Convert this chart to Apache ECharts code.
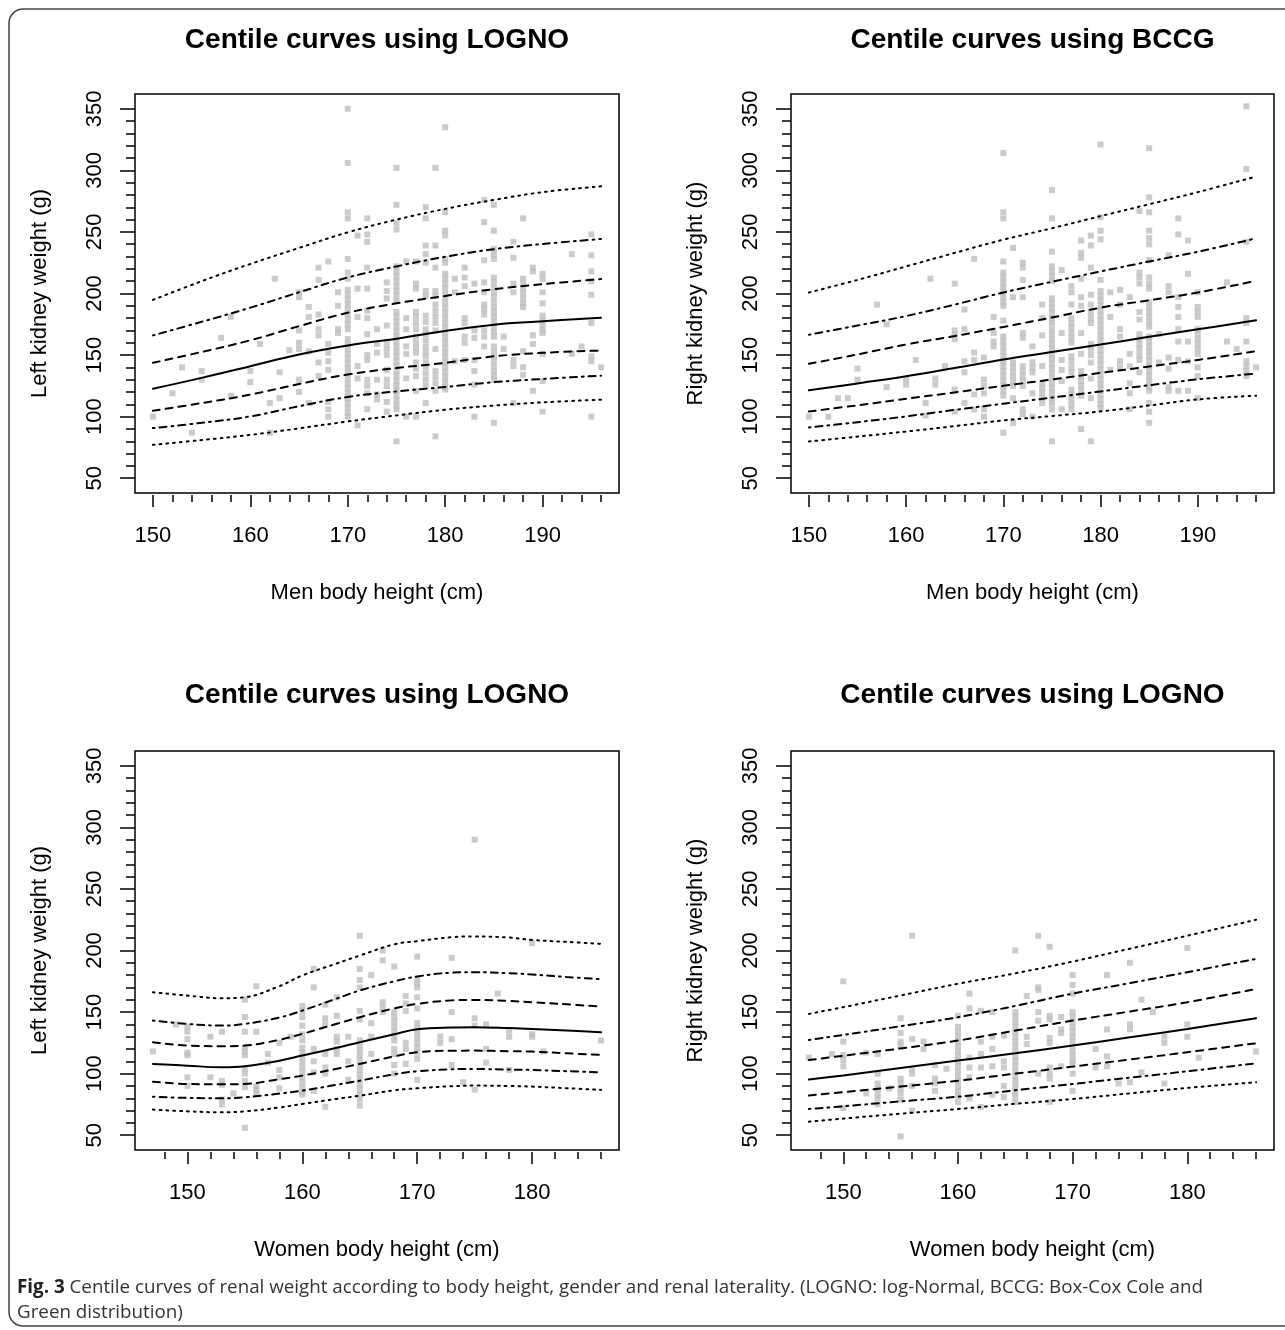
<!DOCTYPE html>
<html>
<head>
<meta charset="utf-8">
<script src="https://cdn.jsdelivr.net/npm/echarts@6/dist/echarts.min.js"></script>
<style>
  html, body { margin: 0; padding: 0; background: #fff; }
  #chart { width: 1285px; height: 1330px; }
</style>
</head>
<body>
<div id="chart"></div>
<script>
// centile curves, men (x = body height)
const menX = [150, 155, 160, 165, 170, 175, 180, 185, 190, 196];
const menLeftC3  = [77.1, 81, 85.2, 90.5, 96.1, 101, 105.6, 109, 111.6, 113.8];
const menLeftC10 = [90.7, 95, 100.2, 108.5, 116, 120.5, 124.1, 128, 130.6, 133.3];
const menLeftC25 = [104.8, 111, 117.9, 126.5, 134.2, 139.5, 143.7, 149, 151.8, 153.7];
const menLeftC50 = [122.7, 131.5, 141, 150.5, 157.8, 163.3, 169.5, 174.7, 177.4, 180.4];
const menLeftC75 = [143.7, 152.5, 162, 173.5, 184.4, 192, 198, 203.5, 207.6, 211.7];
const menLeftC90 = [166, 177, 188.5, 201, 213, 222, 229.8, 236, 240.2, 244.3];
const menLeftC97 = [194.8, 210, 224, 237, 249.7, 260, 268.7, 276, 282.3, 287];

const menRightC3  = [79.8, 83.8, 87.9, 92.3, 96.9, 100.5, 104.2, 109, 114, 117];
const menRightC10 = [91.2, 95.5, 100.2, 105.5, 110.5, 115.5, 120.5, 125.5, 130.3, 135];
const menRightC25 = [104.2, 109.2, 114.5, 119.7, 125, 130.2, 135.5, 140.7, 146, 153.2];
const menRightC50 = [121.4, 127, 132.8, 139.5, 146.4, 152.5, 158.6, 164.8, 170.9, 178.2];
const menRightC75 = [142.9, 150.5, 158.6, 165.5, 172.8, 180.5, 188.5, 194.5, 200.8, 210.3];
const menRightC90 = [166.5, 174, 181.7, 191, 200.8, 209.5, 217.9, 226, 233.9, 244.8];
const menRightC97 = [200.8, 211, 222, 233, 243.7, 253, 262.8, 272.5, 282.3, 295];

// centile curves, women
const womenLeftX = [147, 150, 153, 155, 158, 160, 163, 165, 168, 170, 173, 175, 178, 180, 183, 186];
const womenLeftC3  = [70.8, 69.4, 68.6, 69.4, 72.5, 75.4, 79.5, 82.1, 86.5, 88.1, 89.8, 90.3, 90, 89.5, 88.2, 86.8];
const womenLeftC10 = [81.3, 80.3, 80, 80.8, 83.8, 86.2, 91, 94.3, 99.5, 101.9, 103.5, 103.8, 103.3, 103, 102, 101.1];
const womenLeftC25 = [93.5, 91.6, 91.3, 91.6, 95.5, 98.4, 104, 107.9, 114, 117.4, 118.6, 118.7, 118.2, 117.9, 116.5, 115.2];
const womenLeftC50 = [107.9, 106.5, 105.2, 106, 110.5, 114.7, 121, 125.5, 132, 136.1, 137.5, 137.7, 137, 136.3, 135, 133.6];
const womenLeftC75 = [125.5, 122.8, 122.3, 122.8, 127.5, 132.3, 140.5, 145.8, 153, 156.6, 159.5, 159.9, 159, 158, 156.3, 154.5];
const womenLeftC90 = [143.1, 140.4, 139, 140.4, 145.5, 151.2, 161, 167.5, 175, 178.9, 182, 182.4, 181.5, 180.5, 178.5, 176.7];
const womenLeftC97 = [166.1, 163.4, 161.2, 162.1, 171, 179.7, 189.5, 195.9, 205, 207.6, 210.8, 211.4, 210.5, 208.6, 207, 205.4];

const womenRightX = [147, 150, 155, 160, 165, 170, 175, 180, 186];
const womenRightC3  = [61, 63.5, 67.5, 71.3, 75.5, 79.4, 84, 88.4, 93];
const womenRightC10 = [71.3, 73.5, 77.5, 81.3, 86.5, 91.6, 96.8, 101.9, 108.4];
const womenRightC25 = [82.2, 85, 89.5, 94.3, 100, 105.7, 111.5, 117.4, 124.7];
const womenRightC50 = [95.2, 98.5, 104.5, 110.6, 116.5, 122.8, 129.5, 136.3, 145];
const womenRightC75 = [111.1, 114.5, 120.5, 126.9, 135, 143.1, 150.5, 158, 168.8];
const womenRightC90 = [127.4, 131.5, 138.5, 145.8, 155, 165, 173.5, 182.4, 193.2];
const womenRightC97 = [148.5, 154, 163.5, 173, 181.5, 191, 201.5, 212, 225];

// observed kidney weights: [height, [weights...]]
const menLeftPts = [
  [150, [100]], [152, [119]], [153, [140]], [154, [87]], [155, [137, 130]], [157, [164]],
  [158, [181, 117]], [160, [137, 128]], [161, [159]], [162, [111, 87]], [162.5, [212]],
  [163, [136, 115]], [164, [154]], [165, [201, 197, 170, 160, 155, 130, 120]],
  [166, [189, 181, 153, 111]], [167, [221, 211, 183, 171, 166, 144, 133]],
  [168, [226, 159, 152, 145, 138, 112, 106, 100]], [169, [201, 190, 171, 168]],
  [170, [350, 306, 266, 261, 228, 217, 212, 203, 199, 195, 191, 187, 183, 179, 175, 171, 163, 159, 155, 151, 147, 143, 139, 135, 131, 127, 123, 119, 115, 111, 107, 103, 100]],
  [171, [247, 204, 181, 141, 131, 93]],
  [172, [261, 248, 242, 221, 204, 186, 180, 167, 150, 146, 130, 125, 119, 106]],
  [173, [171, 159, 152, 130, 118, 114]],
  [174, [209, 202, 196, 174, 160, 155, 150, 138, 130, 125, 112, 104]],
  [175, [302, 272, 257, 252, 222, 218, 214, 210, 206, 202, 198, 194, 185, 181, 177, 173, 169, 165, 161, 157, 153, 149, 145, 141, 137, 133, 129, 125, 121, 117, 113, 109, 106, 80]],
  [176, [226, 180, 171, 157, 151, 131, 100]],
  [177, [226, 208, 204, 185, 181, 176, 171, 165, 160, 156, 152, 144, 139, 133, 121, 100]],
  [178, [270, 261, 239, 232, 225, 202, 198, 182, 177, 171, 167, 162, 157, 153, 149, 144, 140, 135, 130, 125, 111]],
  [179, [302, 239, 221, 202, 198, 191, 186, 181, 176, 170, 155, 137, 132, 127, 121, 84]],
  [180, [335, 266, 251, 247, 228, 225, 216, 212, 208, 204, 200, 196, 192, 188, 184, 180, 176, 172, 168, 164, 160, 156, 152, 148, 144, 140, 136, 132, 128, 124, 122]],
  [181, [212, 201, 145]], [182, [221, 213, 206, 180, 176, 165, 160, 146]],
  [183, [208, 170, 164, 146, 137, 126, 100]],
  [184, [276, 258, 227, 209, 201, 191, 187, 183, 170, 165, 157]],
  [185, [272, 251, 236, 232, 228, 213, 209, 205, 201, 197, 193, 189, 185, 181, 177, 173, 169, 165, 157, 153, 149, 145, 141, 137, 133, 130, 95]],
  [186, [165, 155]], [187, [242, 229, 208, 201, 146, 141, 111]],
  [188, [261, 212, 208, 204, 200, 196, 192, 189, 153, 140, 134]],
  [189, [221, 218, 166, 159, 121]],
  [190, [216, 212, 201, 192, 182, 178, 174, 170, 168, 151, 129, 104]],
  [193, [232, 151]], [194, [157]], [195, [248, 231, 218, 210, 199, 176, 149, 145, 100]], [196, [140]]
];

const menRightPts = [
  [150, [100]], [152, [100]], [153, [115]], [154, [115]], [155, [139, 130]], [157, [191]],
  [158, [175, 124]], [160, [130, 126]], [161, [146]], [162, [111, 101]], [162.5, [212]],
  [163, [131, 126]], [164, [141]], [165, [208, 170, 166, 163, 122, 104]],
  [166, [187, 171, 145, 136, 111]], [167, [228, 152, 146, 118, 106]],
  [168, [148, 130, 125, 119, 106, 100]], [169, [181, 168, 161, 157]],
  [170, [314, 266, 261, 226, 217, 213, 209, 205, 201, 197, 193, 190, 178, 165, 161, 157, 153, 149, 145, 141, 137, 133, 129, 125, 121, 117, 87]],
  [171, [237, 197, 144, 140, 136, 132, 128, 125, 115, 95]],
  [172, [225, 221, 211, 197, 168, 164, 141, 137, 133, 129, 125, 106, 102]],
  [173, [157, 144, 140, 136, 119, 100]],
  [174, [191, 180, 166, 141, 127, 123, 119, 115, 111]],
  [175, [284, 261, 234, 222, 218, 214, 210, 196, 192, 188, 184, 180, 176, 171, 167, 163, 159, 155, 151, 147, 143, 139, 135, 131, 127, 123, 119, 115, 111, 106, 80]],
  [176, [219, 168, 146, 138, 129, 106]],
  [177, [206, 201, 191, 180, 176, 172, 168, 164, 160, 149, 145, 140, 136, 122, 118, 114, 110, 106]],
  [178, [243, 233, 229, 212, 197, 190, 168, 151, 137, 133, 129, 125, 121, 117, 90]],
  [179, [247, 239, 221, 199, 191, 185, 180, 176, 159, 155, 150, 144, 131, 115, 80]],
  [180, [321, 262, 251, 244, 211, 202, 198, 194, 190, 186, 182, 178, 174, 170, 166, 162, 158, 154, 150, 146, 142, 138, 134, 130, 126, 122, 118, 114, 110, 107]],
  [181, [201, 181, 138]], [182, [203, 191, 171, 165, 145, 140]],
  [183, [197, 151, 141, 127, 119, 106]],
  [184, [267, 217, 213, 208, 185, 179, 167, 163, 159, 155, 150, 146, 136]],
  [185, [318, 278, 266, 251, 245, 240, 227, 213, 208, 204, 193, 189, 185, 181, 177, 173, 165, 161, 157, 153, 149, 145, 141, 137, 133, 129, 125, 121, 111, 104, 95]],
  [186, [167, 144]], [187, [231, 206, 201, 148, 139, 124, 121]],
  [188, [261, 248, 197, 189, 181, 171, 161, 146, 121]],
  [189, [243, 216, 161, 145, 121]],
  [190, [201, 189, 185, 181, 171, 167, 163, 159, 155, 151, 140, 133, 115]],
  [193, [209, 161]], [194, [155]], [195, [352, 301, 242, 180, 176, 161, 145, 141, 137, 133]], [196, [140]]
];

const womenLeftPts = [
  [147, [118]], [149, [140]], [150, [138, 134, 128, 117, 115, 97, 90]], [152, [130, 97]],
  [153, [134, 94, 91, 79, 75]], [154, [84]],
  [155, [160, 146, 134, 121, 118, 115, 104, 100, 94, 89, 56]],
  [156, [171, 134, 90, 87, 84]], [157, [116, 109]], [158, [125, 103, 97, 88]], [159, [130]],
  [160, [155, 151, 146, 139, 132, 127, 121, 117, 113, 109, 105, 101, 97, 93, 89, 85, 83]],
  [161, [185, 170, 120, 110, 101, 86]], [162, [156, 145, 140, 116, 105, 100, 73]],
  [163, [162, 147, 130, 126, 120, 116]], [164, [130, 110, 95]],
  [165, [212, 185, 176, 170, 151, 144, 127, 123, 119, 115, 111, 107, 103, 99, 95, 91, 87, 83, 79, 74]],
  [166, [180, 141, 130, 116]], [167, [200, 192, 158, 154, 150]],
  [168, [187, 150, 146, 142, 138, 134, 130, 127, 120, 116, 107, 100]],
  [169, [163, 157, 151, 125, 120, 108]],
  [170, [195, 176, 173, 170, 162, 153, 141, 137, 133, 129, 125, 121, 117, 112, 95]],
  [172, [130, 125]], [173, [194, 150, 128, 107]], [174, [93]], [175, [290, 145, 139, 87]],
  [176, [140, 120, 109]], [177, [165]], [178, [135, 130, 103]], [180, [206, 132, 130]],
  [181, [118]], [186, [127]]
];

const womenRightPts = [
  [147, [113]], [149, [116]], [150, [175, 126, 115, 111, 106, 72]], [152, [117, 84]],
  [153, [116, 100, 92, 88, 84, 80, 75]], [154, [88]],
  [155, [145, 133, 126, 123, 96, 92, 88, 84, 79, 49]],
  [156, [212, 128, 104, 100, 90, 70]], [157, [126, 120]], [158, [107, 96, 92, 86]], [159, [104]],
  [160, [147, 138, 134, 130, 126, 122, 118, 114, 110, 106, 102, 98, 94, 90, 86, 82, 77]],
  [161, [165, 153, 113, 105, 97, 80]], [162, [151, 126, 116, 105, 73]],
  [163, [150, 130, 120, 106, 83]], [164, [131, 110, 105, 90, 81]],
  [165, [200, 150, 146, 142, 138, 134, 130, 126, 122, 118, 114, 110, 106, 102, 98, 94, 90, 86, 82, 77]],
  [166, [163, 130, 124]], [167, [212, 170, 168, 150, 143, 100]],
  [168, [203, 147, 144, 129, 125, 105, 100, 96, 77]], [169, [146, 136, 133, 106]],
  [170, [180, 172, 165, 150, 146, 142, 138, 134, 130, 126, 122, 118, 114, 110, 108, 100, 86]],
  [172, [120, 105]], [173, [180, 136, 114, 106]], [174, [92]], [175, [190, 140, 136, 93]],
  [176, [160, 101]], [177, [150]], [178, [130, 125, 92]], [180, [202, 140, 130]],
  [181, [113]], [186, [118]]
];

// axis ticks
const menXLabels = [150, 160, 170, 180, 190];
const menXMinor = [150, 152, 154, 156, 158, 160, 162, 164, 166, 168, 170, 172, 174, 176, 178, 180, 182, 184, 186, 188, 190, 192, 194, 196];
const womenXLabels = [150, 160, 170, 180];
const womenXMinor = [148, 150, 152, 154, 156, 158, 160, 162, 164, 166, 168, 170, 172, 174, 176, 178, 180, 182, 184, 186];
const yLabels = [50, 100, 150, 200, 250, 300, 350];
const yMinor = [50, 60, 70, 80, 90, 100, 110, 120, 130, 140, 150, 160, 170, 180, 190, 200, 210, 220, 230, 240, 250, 260, 270, 280, 290, 300, 310, 320, 330, 340, 350];

const FONT = 'Liberation Sans';

const panels = [
  { title: 'Centile curves using LOGNO', xName: 'Men body height (cm)', yName: 'Left kidney weight (g)',
    xmin: 148.16, xmax: 197.84, xLabels: menXLabels, xMinor: menXMinor,
    x: menX, curves: [menLeftC3, menLeftC10, menLeftC25, menLeftC50, menLeftC75, menLeftC90, menLeftC97], pts: menLeftPts,
    grid: { left: 135, top: 94, width: 484, height: 399 }, titleTop: 26 },
  { title: 'Centile curves using BCCG', xName: 'Men body height (cm)', yName: 'Right kidney weight (g)',
    xmin: 148.16, xmax: 197.84, xLabels: menXLabels, xMinor: menXMinor,
    x: menX, curves: [menRightC3, menRightC10, menRightC25, menRightC50, menRightC75, menRightC90, menRightC97], pts: menRightPts,
    grid: { left: 791, top: 94, width: 483, height: 399 }, titleTop: 26 },
  { title: 'Centile curves using LOGNO', xName: 'Women body height (cm)', yName: 'Left kidney weight (g)',
    xmin: 145.44, xmax: 187.56, xLabels: womenXLabels, xMinor: womenXMinor,
    x: womenLeftX, curves: [womenLeftC3, womenLeftC10, womenLeftC25, womenLeftC50, womenLeftC75, womenLeftC90, womenLeftC97], pts: womenLeftPts,
    grid: { left: 135, top: 751, width: 484, height: 399 }, titleTop: 681 },
  { title: 'Centile curves using LOGNO', xName: 'Women body height (cm)', yName: 'Right kidney weight (g)',
    xmin: 145.44, xmax: 187.56, xLabels: womenXLabels, xMinor: womenXMinor,
    x: womenRightX, curves: [womenRightC3, womenRightC10, womenRightC25, womenRightC50, womenRightC75, womenRightC90, womenRightC97], pts: womenRightPts,
    grid: { left: 791, top: 751, width: 483, height: 399 }, titleTop: 681 }
];

// R line types: dotted, dot-dash, dashed, solid (scaled by line width)
const DOT = [1.8, 5];
const DOTDASH = [1.8, 5, 7, 5];
const DASH = [7, 6];
const curveTypes = [DOT, DOTDASH, DASH, 'solid', DASH, DOTDASH, DOT];

const tickStyle = { color: '#000', width: 1.5 };
const labelStyle = { fontSize: 22, color: '#000', fontFamily: FONT };

const grids = [], titles = [], xAxes = [], yAxes = [], series = [];

panels.forEach((p, i) => {
  grids.push(Object.assign({ show: true, borderColor: '#000', borderWidth: 1.5, backgroundColor: 'transparent' }, p.grid));
  titles.push({
    text: p.title, left: p.grid.left + p.grid.width / 2, top: p.titleTop, textAlign: 'center', padding: 0,
    textStyle: { fontFamily: FONT, fontSize: 28, fontWeight: 'bold', color: '#000' }
  });
  xAxes.push({
    gridIndex: i, type: 'value', min: p.xmin, max: p.xmax, position: 'bottom', offset: 2,
    axisLine: { show: false }, splitLine: { show: false },
    axisTick: { customValues: p.xLabels, length: 12, lineStyle: tickStyle },
    axisLabel: Object.assign({ customValues: p.xLabels, margin: 30 }, labelStyle),
    name: p.xName, nameLocation: 'middle', nameGap: 87, nameTextStyle: labelStyle
  });
  xAxes.push({
    gridIndex: i, type: 'value', min: p.xmin, max: p.xmax, position: 'bottom', offset: 2,
    axisLine: { show: false }, splitLine: { show: false }, axisLabel: { show: false },
    axisTick: { customValues: p.xMinor, length: 7, lineStyle: tickStyle }
  });
  yAxes.push({
    gridIndex: i, type: 'value', min: 38, max: 362, position: 'left',
    axisLine: { show: false }, splitLine: { show: false },
    axisTick: { customValues: yLabels, length: 15, lineStyle: tickStyle },
    axisLabel: Object.assign({ customValues: yLabels, rotate: 90, margin: 29 }, labelStyle),
    name: p.yName, nameLocation: 'middle', nameGap: 84, nameTextStyle: labelStyle
  });
  yAxes.push({
    gridIndex: i, type: 'value', min: 38, max: 362, position: 'left',
    axisLine: { show: false }, splitLine: { show: false }, axisLabel: { show: false },
    axisTick: { customValues: yMinor, length: 9, lineStyle: tickStyle }
  });

  const pts = [];
  p.pts.forEach(([h, ws]) => ws.forEach(w => pts.push([h, w])));
  series.push({
    type: 'scatter', xAxisIndex: 2 * i, yAxisIndex: 2 * i, data: pts,
    symbol: 'rect', symbolSize: 6, itemStyle: { color: '#bebebe' }, silent: true
  });
  p.curves.forEach((c, k) => {
    series.push({
      type: 'line', xAxisIndex: 2 * i, yAxisIndex: 2 * i,
      data: p.x.map((x, j) => [x, c[j]]),
      showSymbol: false, smooth: 0.4, silent: true,
      lineStyle: { color: '#000', width: 2, type: curveTypes[k], cap: 'round' }
    });
  });
});

const chart = echarts.init(document.getElementById('chart'), null, { renderer: 'canvas' });
chart.setOption({
  animation: false,
  backgroundColor: '#fff',
  textStyle: { fontFamily: FONT },
  title: titles,
  grid: grids,
  xAxis: xAxes,
  yAxis: yAxes,
  series: series,
  graphic: [
    {
      type: 'rect', silent: true,
      shape: { x: 9, y: 9, width: 1320, height: 1317, r: 14 },
      style: { fill: 'none', stroke: '#444', lineWidth: 1.5 }
    },
    {
      type: 'text', silent: true, left: 17, top: 1275,
      style: {
        text: '{b|Fig. 3} Centile curves of renal weight according to body height, gender and renal laterality. (LOGNO: log-Normal, BCCG: Box-Cox Cole and\nGreen distribution)',
        fontFamily: 'Open Sans', fontSize: 18.8, fill: '#333', lineHeight: 25,
        rich: { b: { fontFamily: 'Open Sans', fontSize: 18.8, fontWeight: 'bold', fill: '#222', lineHeight: 25 } }
      }
    }
  ]
});
</script>
</body>
</html>
